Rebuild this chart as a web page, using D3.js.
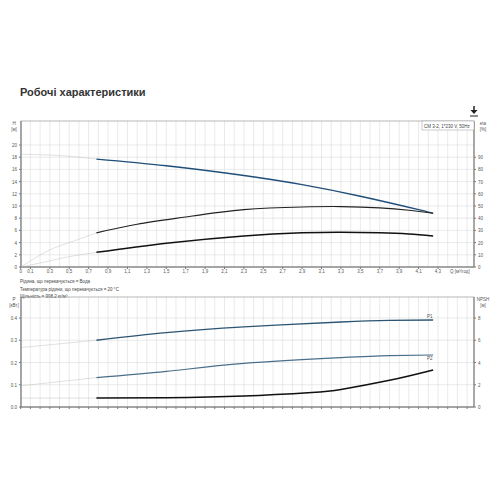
<!DOCTYPE html><html><head><meta charset="utf-8">
<script src="https://cdn.jsdelivr.net/npm/d3@7"></script>
<style>body{margin:0;background:#fff}text{font-family:"Liberation Sans",Arial,sans-serif}</style></head><body>
<svg id="c" width="500" height="500"></svg>
<script>
const xTickLabels=["0","0.1","0.3","0.5","0.7","0.9","1.1","1.3","1.5","1.7","1.9","2.1","2.3","2.5","2.7","2.9","3.1","3.3","3.5","3.7","3.9","4.1","4.3"];
const hTicks=[0,2,4,6,8,10,12,14,16,18,20];
const etaTicks=[0,10,20,30,40,50,60,70,80,90];
const pTicks=[0,0.1,0.2,0.3,0.4];
const npshTicks=[0,2,4,6,8];
const hDash=[[0,18.5],[0.3,18.35],[0.5,18.15],[0.78,17.7]];
const hSolid=[[0.78,17.7],[1.5,16.6],[2.3,15.0],[2.9,13.5],[3.5,11.6],[4.1,9.4],[4.25,8.8]];
const etaDash=[[0,0],[0.1,5],[0.3,14],[0.5,20],[0.78,28]];
const etaSolid=[[0.78,28],[1.2,35],[1.7,41],[2.3,47],[2.9,49.2],[3.3,49.5],[3.7,48.5],[4.0,46.5],[4.25,44]];
const eta2Dash=[[0,0],[0.3,5],[0.5,8.5],[0.78,12]];
const eta2Solid=[[0.78,12],[1.5,19.5],[2.3,25.5],[2.9,28],[3.3,28.5],[3.7,28],[4.0,27],[4.25,25.5]];
const p1Dash=[[0,0.267],[0.78,0.30]];
const p1Solid=[[0.78,0.30],[1.5,0.334],[2.3,0.36],[3.3,0.382],[3.8,0.389],[4.25,0.391]];
const p2Dash=[[0,0.095],[0.78,0.132]];
const p2Solid=[[0.78,0.132],[1.5,0.16],[2.3,0.196],[3.3,0.222],[3.8,0.231],[4.25,0.234]];
const npshDash=[[0,0.8],[0.78,0.8]];
const npshSolid=[[0.78,0.8],[1.5,0.83],[2.3,0.98],[3.0,1.3],[3.3,1.58],[3.8,2.4],[4.25,3.33]];
const infoLines=["Рідина, що перекачується = Вода","Температура рідини, що перекачується = 20 °C","Щільність = 998.2 кг/м³"];

const svg=d3.select("#c");
const L=21,R=474;
const x=d3.scaleLinear().domain([0,4.3]).range([20.7,438]);
const yH=d3.scaleLinear().domain([0,20]).range([267,145]);
const yE=d3.scaleLinear().domain([0,90]).range([267,157.2]);
const yP=d3.scaleLinear().domain([0,0.4]).range([407,318]);
const yN=d3.scaleLinear().domain([0,8]).range([407,318]);
const grid="#dcdcdc",ax="#777";

svg.append("text").attr("x",20).attr("y",96).attr("font-size",11).attr("font-weight","bold").attr("fill","#333").text("Робочі характеристики");
const ic=svg.append("g").attr("stroke","#222").attr("fill","#222");
ic.append("line").attr("x1",474).attr("x2",474).attr("y1",106).attr("y2",111).attr("stroke-width",1.5);
ic.append("path").attr("d","M470.5,110 L477.5,110 L474,114 Z").attr("stroke","none");
ic.append("line").attr("x1",470).attr("x2",478).attr("y1",116).attr("y2",116).attr("stroke-width",1);

function panel(top,bot,yl,yr,lticks,rticks,lfmt,labels){
  const g=svg.append("g");
  for(let v=0;v<=4.6001;v+=0.1){const px=x(v); if(px<R) g.append("line").attr("x1",px).attr("x2",px).attr("y1",top).attr("y2",bot).attr("stroke",grid).attr("stroke-width",0.6);}
  lticks.forEach(t=>{g.append("line").attr("x1",L).attr("x2",R).attr("y1",yl(t)).attr("y2",yl(t)).attr("stroke",grid).attr("stroke-width",0.6);
    g.append("text").attr("x",L-4).attr("y",yl(t)+2).attr("text-anchor","end").attr("font-size",4.5).attr("fill","#555").text(lfmt(t));
    g.append("line").attr("x1",L-2).attr("x2",L).attr("y1",yl(t)).attr("y2",yl(t)).attr("stroke",ax);});
  rticks.forEach(t=>{g.append("text").attr("x",R+4).attr("y",yr(t)+2).attr("font-size",4.5).attr("fill","#555").text(t);
    g.append("line").attr("x1",R).attr("x2",R+2).attr("y1",yr(t)).attr("y2",yr(t)).attr("stroke",ax);});
  g.append("rect").attr("x",L).attr("y",top).attr("width",R-L).attr("height",bot-top).attr("fill","none").attr("stroke","#999").attr("stroke-width",0.7);
  g.append("line").attr("x1",L).attr("x2",L).attr("y1",top).attr("y2",bot).attr("stroke",ax);
  g.append("line").attr("x1",R).attr("x2",R).attr("y1",top).attr("y2",bot).attr("stroke",ax);
  g.append("line").attr("x1",L).attr("x2",R).attr("y1",bot).attr("y2",bot).attr("stroke",ax);
  g.append("text").attr("x",L-7).attr("y",top+4).attr("text-anchor","middle").attr("font-size",4.5).attr("fill","#555").text(labels[0]);
  g.append("text").attr("x",L-7).attr("y",top+10).attr("text-anchor","middle").attr("font-size",4.5).attr("fill","#555").text(labels[1]);
  g.append("text").attr("x",R+9).attr("y",top+4).attr("text-anchor","middle").attr("font-size",4.5).attr("fill","#555").text(labels[2]);
  g.append("text").attr("x",R+9).attr("y",top+10).attr("text-anchor","middle").attr("font-size",4.5).attr("fill","#555").text(labels[3]);
  return g;
}
const g1=panel(121,267,yH,yE,hTicks,etaTicks,d=>d,["H","[м]","eta","[%]"]);
xTickLabels.forEach(s=>{const v=+s;g1.append("text").attr("x",x(v)).attr("y",273).attr("text-anchor","middle").attr("font-size",4.5).attr("fill","#555").text(s.replace(".",","));
  g1.append("line").attr("x1",x(v)).attr("x2",x(v)).attr("y1",267).attr("y2",269).attr("stroke",ax);});
g1.append("text").attr("x",450).attr("y",273).attr("font-size",4.5).attr("fill","#555").text("Q [м³/год]");
g1.append("rect").attr("x",422).attr("y",121).attr("width",52).attr("height",9).attr("fill","#fff").attr("stroke","#999").attr("stroke-width",0.5);
g1.append("text").attr("x",424).attr("y",127.5).attr("font-size",4.5).attr("fill","#444").text("CM 3-2, 1*230 V, 50Hz");
infoLines.forEach((t,i)=>svg.append("text").attr("x",20).attr("y",283+i*7.5).attr("font-size",4.5).attr("fill","#444").text(t));

const g2=panel(297,407,yP,yN,pTicks,npshTicks,d=>d.toFixed(1),["P","[кВт]","NPSH","[м]"]);
for(let v=0;v<=4.6001;v+=0.1){g2.append("line").attr("x1",x(v)).attr("x2",x(v)).attr("y1",407).attr("y2",409).attr("stroke",ax);}

function curve(data,ys,color,w,dash){
  svg.append("path").datum(data).attr("d",d3.line().x(d=>x(d[0])).y(d=>ys(d[1])).curve(d3.curveNatural))
   .attr("fill","none").attr("stroke",color).attr("stroke-width",w).attr("opacity",dash?0.6:1);
}
curve(hDash,yH,"#aaa",0.6,1);curve(hSolid,yH,"#1f4e79",1.3);
curve(etaDash,yE,"#aaa",0.6,1);curve(etaSolid,yE,"#222",1.1);
curve(eta2Dash,yE,"#aaa",0.6,1);curve(eta2Solid,yE,"#111",1.5);
curve(p1Dash,yP,"#aaa",0.6,1);curve(p1Solid,yP,"#2c5573",1.3);
curve(p2Dash,yP,"#aaa",0.6,1);curve(p2Solid,yP,"#4a6f8a",1.1);
curve(npshDash,yN,"#aaa",0.6,1);curve(npshSolid,yN,"#111",1.5);
svg.append("text").attr("x",427).attr("y",318).attr("font-size",4.5).attr("fill","#555").text("P1");
svg.append("text").attr("x",427).attr("y",360).attr("font-size",4.5).attr("fill","#555").text("P2");
</script></body></html>
